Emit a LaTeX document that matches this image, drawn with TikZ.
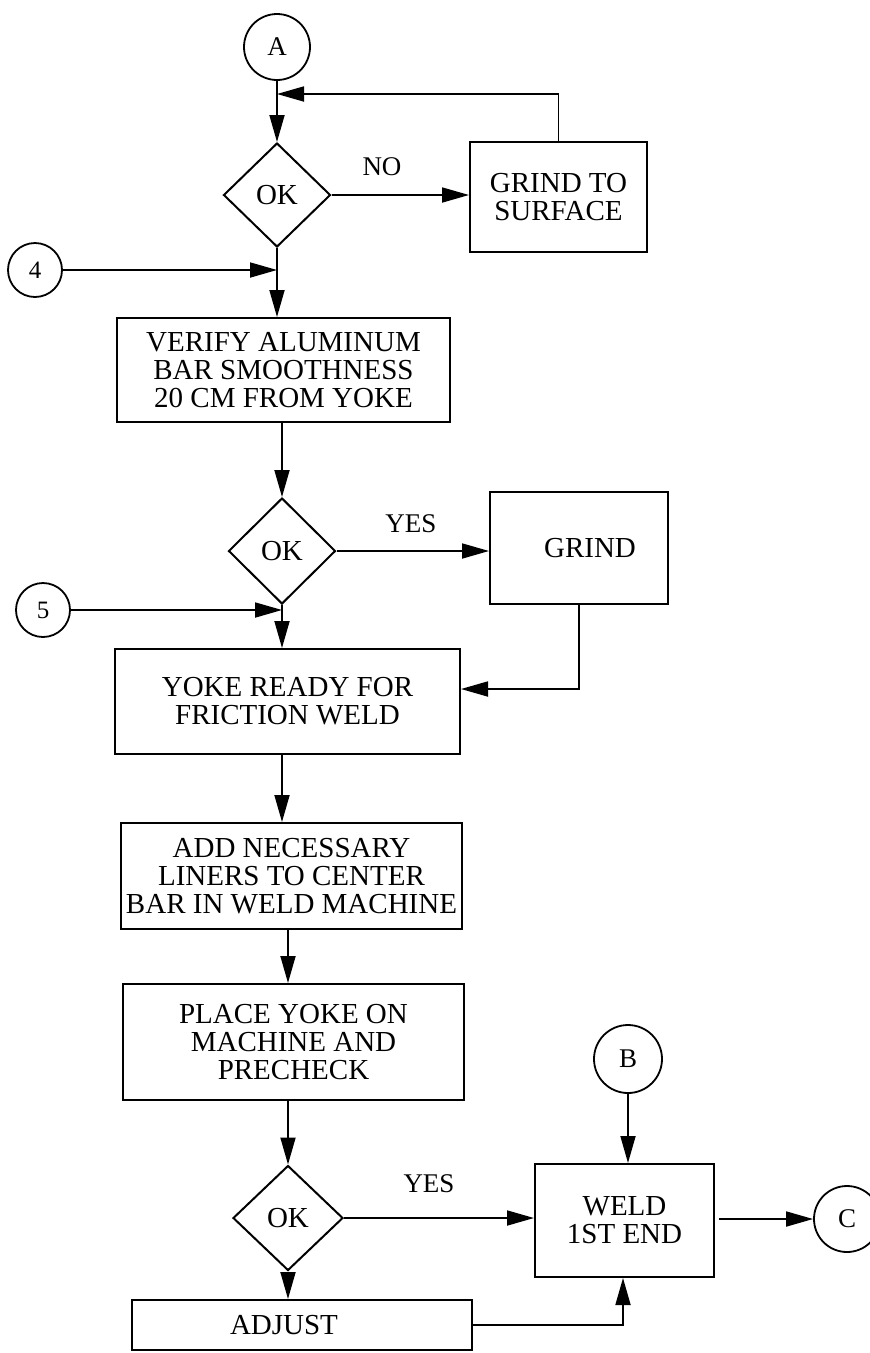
\documentclass[tikz,border=0pt]{standalone}
\usepackage{fontspec}
\setmainfont{Liberation Serif}
\usetikzlibrary{shapes.geometric,arrows.meta}
\begin{document}
\begin{tikzpicture}[x=1pt,y=-1pt,
  every node/.style={font=\fontsize{29}{28}\selectfont},
  proc/.style={draw, line width=2pt, rectangle, inner sep=2pt, align=center},
  dec/.style={draw, line width=2pt, diamond, inner sep=0pt},
  conn/.style={draw, line width=1.8pt, circle, inner sep=0pt, font=\fontsize{27}{27}\selectfont},
  numconn/.style={conn, font=\fontsize{25}{25}\selectfont},
  arr/.style={line width=1.8pt, -{Triangle[length=27pt,width=15pt]}},
  lab/.style={font=\fontsize{27}{27}\selectfont}
]
\useasboundingbox (0,0) rectangle (870,1353);

% nodes
\node[conn, minimum size=66pt] (A) at (277,47) {A};
\node[dec, minimum width=107pt, minimum height=104pt] (d1) at (277,195) {OK};
\node[proc, minimum width=177pt, minimum height=110pt] (gts) at (558.5,197) {GRIND TO\\SURFACE};
\node[numconn, minimum size=54pt] (c4) at (35,270) {4};
\node[proc, minimum width=333pt, minimum height=104pt] (ver) at (283.5,370) {VERIFY ALUMINUM\\BAR SMOOTHNESS\\20 CM FROM YOKE};
\node[dec, minimum width=107pt, minimum height=106pt] (d2) at (282,551) {OK};
\node[proc, minimum width=178pt, minimum height=112pt] (gr) at (579,548) {\hspace*{22pt}GRIND};
\node[numconn, minimum size=54pt] (c5) at (43,610) {5};
\node[proc, minimum width=345pt, minimum height=105pt] (yoke) at (287.5,701.5) {YOKE READY FOR\\FRICTION WELD};
\node[proc, minimum width=341pt, minimum height=106pt] (add) at (291.5,876) {ADD NECESSARY\\LINERS TO CENTER\\BAR IN WELD MACHINE};
\node[proc, minimum width=341pt, minimum height=116pt] (place) at (293.5,1042) {PLACE YOKE ON\\MACHINE AND\\PRECHECK};
\node[dec, minimum width=110pt, minimum height=105pt] (d3) at (288,1218) {OK};
\node[proc, minimum width=340pt, minimum height=50pt] (adj) at (302,1325) {ADJUST\hspace*{36pt}};
\node[conn, minimum size=68pt] (B) at (628,1059) {B};
\node[proc, minimum width=179pt, minimum height=113pt] (weld) at (624.5,1220.5) {WELD\\1ST END};
\node[conn, minimum size=66pt] (C) at (847,1219) {C};

% labels
\node[lab] (no) at (382,167) {NO};
\node[lab] (yes1) at (411,524) {YES};
\node[lab] (yes2) at (429,1184) {YES};

% helper coordinates
\coordinate (fb) at (277,94);
\coordinate (j4) at (277,270);
\coordinate (j5) at (282,610);
\coordinate (gy) at (579,689);
\coordinate (aw) at (623,1325);

% connectors
\draw[arr] (A) -- (d1);
\draw[arr] (gts.north) |- (fb);
\draw[arr] (d1.east) -- (d1.east -| gts.west);
\draw[arr] (c4) -- (j4);
\draw[arr] (d1.south) -- (d1.south |- ver.north);
\draw[arr] (ver.south -| d2.north) -- (d2.north);
\draw[arr] (d2.east) -- (d2.east -| gr.west);
\draw[arr] (c5) -- (j5);
\draw[arr] (d2.south) -- (d2.south |- yoke.north);
\draw[arr] (gr.south) -- (gy) -- (gy -| yoke.east);
\draw[arr] (yoke.south -| d2.south) -- (add.north -| d2.south);
\draw[arr] (add.south -| d3.north) -- (place.north -| d3.north);
\draw[arr] (place.south -| d3.north) -- (d3.north);
\draw[arr] (d3.south) -- (d3.south |- adj.north);
\draw[arr] (d3.east) -- (d3.east -| weld.west);
\draw[arr] (B.south) -- (B.south |- weld.north);
\draw[arr] ([xshift=4pt]weld.east |- C.west) -- (C.west);
\draw[arr] (adj.east) -- (aw) -- (aw |- weld.south);
\end{tikzpicture}
\end{document}
